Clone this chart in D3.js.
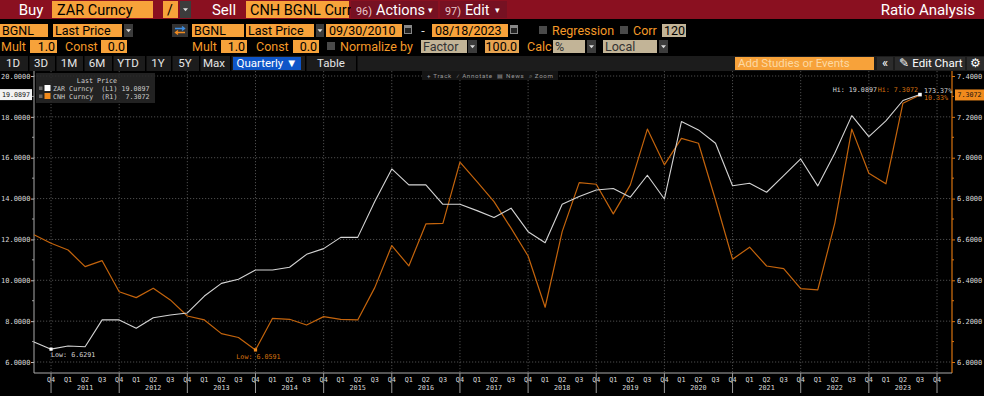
<!DOCTYPE html>
<html>
<head>
<meta charset="utf-8">
<script src="https://cdn.jsdelivr.net/npm/d3@7"></script>
<style>
  html, body { margin: 0; padding: 0; background: #000; overflow: hidden; }
  svg { display: block; }
  text { white-space: pre; }
</style>
</head>
<body>
<svg id="chart"></svg>
<script>
// quarterly closes, 2010 Q3 (09/30/2010) .. 2023 Q3 (08/18/2023)
const firstQuarter = { year: 2010, q: 3 };
const zarCurncy = [6.983, 6.6291, 6.78, 6.75, 8.06, 8.06, 7.65, 8.17, 8.30, 8.40, 9.23, 9.85, 10.05, 10.5,
  10.5, 10.64, 11.27, 11.55, 12.10, 12.10, 13.86, 15.45, 14.67, 14.67, 13.72, 13.72, 13.41, 13.07, 13.53,
  12.38, 11.84, 13.72, 14.10, 14.42, 14.49, 14.07, 15.14, 13.98, 17.77, 17.36, 16.71, 14.63, 14.75, 14.31,
  15.12, 15.94, 14.62, 16.22, 18.06, 17.03, 17.80, 18.80, 19.0897];
const cnhCurncy = [6.623, 6.581, 6.548, 6.467, 6.496, 6.344, 6.315, 6.361, 6.304, 6.225, 6.206, 6.139, 6.12,
  6.0591, 6.214, 6.209, 6.181, 6.222, 6.209, 6.206, 6.364, 6.57, 6.47, 6.676, 6.679, 6.978, 6.883, 6.785,
  6.655, 6.519, 6.268, 6.638, 6.878, 6.87, 6.725, 6.867, 7.14, 6.965, 7.095, 7.071, 6.793, 6.503, 6.562,
  6.47, 6.457, 6.359, 6.353, 6.679, 7.14, 6.924, 6.872, 7.267, 7.3072];
const leftTicks = [6, 8, 10, 12, 14, 16, 18, 20];
const rightTicks = [6.0, 6.2, 6.4, 6.6, 6.8, 7.0, 7.2, 7.4];
const axisYears = [2011, 2012, 2013, 2014, 2015, 2016, 2017, 2018, 2019, 2020, 2021, 2022, 2023];
const quarterNames = ['Q1', 'Q2', 'Q3', 'Q4'];

const W = 984, H = 396;
const SANS = 'Roboto, "Liberation Sans", sans-serif';
const MONO = '"DejaVu Sans Mono", "Liberation Mono", monospace';
const RED = '#8a1020', ORANGE = '#f7a23a', ORANGE_TXT = '#f59a28', TAN = '#c2b497', DROP = '#3c3c3c';
const ZAR_COLOR = '#d4d4d4', CNH_COLOR = '#c4640c', AXIS_ORANGE = '#d9730f';

const svg = d3.select('#chart').attr('width', W).attr('height', H).attr('viewBox', [0, 0, W, H]);
svg.append('rect').attr('width', W).attr('height', H).attr('fill', '#000');

function box(x, y, w, h, fill) {
  return svg.append('rect').attr('x', x).attr('y', y).attr('width', w).attr('height', h).attr('fill', fill);
}
function label(x, y, str, fill, size, anchor, family) {
  return svg.append('text').attr('x', x).attr('y', y).attr('fill', fill)
    .attr('font-size', size).attr('font-family', family || SANS)
    .attr('text-anchor', anchor || 'start').text(str);
}
function dropdown(x, y, w, h) {
  box(x, y, w, h, DROP);
  const cx = x + w / 2, cy = y + h / 2;
  svg.append('path').attr('d', `M${cx - 2.5},${cy - 1.2}L${cx + 2.5},${cy - 1.2}L${cx},${cy + 1.8}Z`).attr('fill', '#ddd');
}
function checkbox(x, y) {
  box(x, y, 8, 8, '#4a4a4a');
}
function calendar(x, y) {
  box(x, y + 1, 8, 9, '#888');
  box(x + 1, y + 4, 6, 5, '#222');
}

/**
 * top red bar
 */
box(0, 0, W, 19, RED);
label(31, 15, 'Buy', '#fff', 15, 'middle');
box(52, 1, 101, 17, ORANGE);
label(57, 15, 'ZAR Curncy', '#000', 14.5);
box(163, 1, 15, 17, ORANGE);
label(170, 15, '/', '#000', 14, 'middle');
dropdown(180, 1, 11, 17);
label(224, 15, 'Sell', '#fff', 15, 'middle');
box(246, 1, 103, 17, ORANGE);
label(250, 15, 'CNH BGNL Curr', '#000', 14.5);
box(351, 1, 87, 17, '#761122');
label(356, 14.5, '96)', '#e9c9cc', 11).attr('textLength', 16).attr('lengthAdjust', 'spacingAndGlyphs');
label(376, 15, 'Actions', '#fff', 14.5);
label(430, 13, '▾', '#fff', 9, 'middle');
box(440, 1, 67, 17, '#761122');
label(445, 14.5, '97)', '#e9c9cc', 11).attr('textLength', 16).attr('lengthAdjust', 'spacingAndGlyphs');
label(465, 15, 'Edit', '#fff', 14.5);
label(497, 13, '▾', '#fff', 9, 'middle');
label(975, 15, 'Ratio Analysis', '#fff', 15, 'end');

/**
 * second row: series selection and date range
 */
const r2 = 24, r2h = 13, r2t = r2 + 11;
box(0, r2, 48, r2h, ORANGE);
label(2, r2t, 'BGNL', '#000', 12.5);
box(53, r2, 69, r2h, ORANGE);
label(55, r2t, 'Last Price', '#000', 12.5);
dropdown(124, r2, 9, r2h);
box(172, r2, 16, r2h, '#333');
svg.append('path').attr('d', `M175,${r2 + 4.5}H184M182,${r2 + 2.5}L184.5,${r2 + 4.5}L182,${r2 + 6.5}`)
  .attr('stroke', '#3d8de0').attr('stroke-width', 1.4).attr('fill', 'none');
svg.append('path').attr('d', `M185,${r2 + 8.5}H176M178,${r2 + 6.5}L175.5,${r2 + 8.5}L178,${r2 + 10.5}`)
  .attr('stroke', '#f08a20').attr('stroke-width', 1.4).attr('fill', 'none');
box(192, r2, 52, r2h, ORANGE);
label(194, r2t, 'BGNL', '#000', 12.5);
box(246, r2, 68, r2h, ORANGE);
label(248, r2t, 'Last Price', '#000', 12.5);
dropdown(316, r2, 8, r2h);
box(326, r2, 76, r2h, ORANGE);
label(329, r2t, '09/30/2010', '#000', 12.5);
calendar(404, r2);
label(423, r2t, '-', '#ddd', 12.5, 'middle');
box(432, r2, 76, r2h, ORANGE);
label(435, r2t, '08/18/2023', '#000', 12.5);
calendar(510, r2);
checkbox(539, r2 + 2);
label(552, r2t, 'Regression', ORANGE_TXT, 12.5);
checkbox(620, r2 + 2);
label(633, r2t, 'Corr', ORANGE_TXT, 12.5);
box(662, r2, 24, r2h, TAN);
label(664, r2t, '120', '#000', 12.5);

/**
 * third row: multipliers and normalisation
 */
const r3 = 40, r3h = 13, r3t = r3 + 11;
label(1, r3t, 'Mult', ORANGE_TXT, 12.5);
box(30, r3, 27, r3h, ORANGE);
label(55, r3t, '1.0', '#000', 12.5, 'end');
label(65, r3t, 'Const', ORANGE_TXT, 12.5);
box(101, r3, 26, r3h, ORANGE);
label(125, r3t, '0.0', '#000', 12.5, 'end');
label(192, r3t, 'Mult', ORANGE_TXT, 12.5);
box(221, r3, 26, r3h, ORANGE);
label(245, r3t, '1.0', '#000', 12.5, 'end');
label(256, r3t, 'Const', ORANGE_TXT, 12.5);
box(293, r3, 26, r3h, ORANGE);
label(317, r3t, '0.0', '#000', 12.5, 'end');
checkbox(327, r3 + 2);
label(340, r3t, 'Normalize by', ORANGE_TXT, 12.5);
box(421, r3, 46, r3h, TAN);
label(423, r3t, 'Factor', '#333', 12.5);
dropdown(468, r3, 9, r3h);
box(485, r3, 34, r3h, '#e6a350');
label(517, r3t, '100.0', '#000', 12.5, 'end');
label(527, r3t, 'Calc', ORANGE_TXT, 12.5);
box(553, r3, 32, r3h, TAN);
label(555, r3t, '%', '#333', 12.5);
dropdown(587, r3, 9, r3h);
box(603, r3, 54, r3h, TAN);
label(605, r3t, 'Local', '#333', 12.5);
dropdown(659, r3, 9, r3h);

/**
 * fourth row: period buttons
 */
const r4 = 56, r4h = 15, r4t = r4 + 11;
box(0, r4, W, r4h, '#1c1c1c');
[28, 55, 83, 112, 145, 171, 199, 230, 305, 356].forEach((x) => box(x, r4, 1.5, r4h, '#000'));
[['1D', 13], ['3D', 41], ['1M', 69], ['6M', 97], ['YTD', 128], ['1Y', 158], ['5Y', 185], ['Max', 214], ['Table', 331]]
  .forEach(([t, x]) => label(x, r4t, t, '#e6e6e6', 11.5, 'middle'));
box(233, r4 + 1, 68, r4h - 2, '#0e55c8');
label(267, r4t, 'Quarterly ▼', '#fff', 11.5, 'middle');
box(735, r4 + 1, 139, r4h - 2, ORANGE);
label(738, r4t, 'Add Studies or Events', '#fcd9a4', 11.5);
box(877, r4 + 1, 16, r4h - 2, '#2c2c2c');
label(885, r4t, '«', '#fff', 13, 'middle');
box(895, r4 + 1, 70, r4h - 2, '#2c2c2c');
label(931, r4t, '✎ Edit Chart', '#fff', 11.5, 'middle');
box(967, r4 + 1, 17, r4h - 2, '#2c2c2c');
label(975.5, r4t, '⚙', '#fff', 11.5, 'middle');

/**
 * chart area
 */
const plotLeft = 34, plotRight = 952, plotTop = 71, plotBottom = 373;
const nQuarters = zarCurncy.length;
const x_scale = d3.scaleLinear([0, 53.88], [plotLeft, plotRight]);
const yL = d3.scaleLinear([6, 20], [362, 76]);
const yR = d3.scaleLinear([6.0, 7.4], [362, 76]);

// quarter labels along the axis, index 0 = first data quarter
const quarterTicks = d3.range(1, 54).map((i) => {
  const q = (firstQuarter.q - 1 + i) % 4;
  return { i, name: quarterNames[q] };
});
const yearSeparators = quarterTicks.filter((d) => d.name === 'Q4').map((d) => d.i);

// grid
const grid = svg.append('g').attr('stroke', '#606060').attr('stroke-width', 0.8).attr('stroke-dasharray', '1.2 1.8');
grid.selectAll('.hgrid').data(leftTicks).join('line').attr('class', 'hgrid')
  .attr('x1', plotLeft).attr('x2', plotRight).attr('y1', (d) => yL(d)).attr('y2', (d) => yL(d));
grid.selectAll('.vgrid').data(yearSeparators).join('line').attr('class', 'vgrid')
  .attr('x1', (d) => x_scale(d)).attr('x2', (d) => x_scale(d)).attr('y1', plotTop).attr('y2', plotBottom);

// small chart tool strip
box(422, 71, 136, 9, '#151515');
label(427, 78, '+ Track  ⁄ Annotate  ▤ News  ⌕ Zoom', '#9a9a9a', 6.2)
  .attr('textLength', 126).attr('lengthAdjust', 'spacing');

// left axis
const leftAxis = svg.append('g').attr('transform', `translate(${plotLeft},0)`)
  .call(d3.axisLeft(yL).tickValues(leftTicks).tickSize(3).tickFormat(d3.format('.4f')))
  .call((g) => g.select('.domain').remove())
  .call((g) => g.selectAll('.tick line').attr('stroke', '#bbb'))
  .call((g) => g.selectAll('.tick text').attr('fill', '#d8d8d8').attr('font-family', MONO).attr('font-size', 7).attr('x', -3.5));
leftAxis.selectAll('.minor').data(d3.range(7, 20, 2)).join('line').attr('class', 'minor')
  .attr('x1', -2).attr('x2', 0).attr('y1', (d) => yL(d)).attr('y2', (d) => yL(d)).attr('stroke', '#999');
svg.append('line').attr('x1', plotLeft).attr('x2', plotLeft).attr('y1', plotTop).attr('y2', plotBottom).attr('stroke', '#aaa');

// right axis
const rightAxis = svg.append('g').attr('transform', `translate(${plotRight},0)`)
  .call(d3.axisRight(yR).tickValues(rightTicks).tickSize(3).tickFormat(d3.format('.4f')))
  .call((g) => g.select('.domain').remove())
  .call((g) => g.selectAll('.tick line').attr('stroke', AXIS_ORANGE))
  .call((g) => g.selectAll('.tick text').attr('fill', '#d8d8d8').attr('font-family', MONO).attr('font-size', 7).attr('x', 5));
rightAxis.selectAll('.minor').data(d3.range(6.1, 7.4, 0.2)).join('line').attr('class', 'minor')
  .attr('x1', 0).attr('x2', 2).attr('y1', (d) => yR(d)).attr('y2', (d) => yR(d)).attr('stroke', AXIS_ORANGE);
svg.append('line').attr('x1', plotRight).attr('x2', plotRight).attr('y1', plotTop).attr('y2', plotBottom)
  .attr('stroke', AXIS_ORANGE).attr('stroke-width', 1.2);

// bottom axis
svg.append('line').attr('x1', plotLeft).attr('x2', plotRight).attr('y1', plotBottom).attr('y2', plotBottom).attr('stroke', '#aaa');
const xAxis = svg.append('g');
xAxis.selectAll('.qlabel').data(quarterTicks).join('text').attr('class', 'qlabel')
  .attr('x', (d) => x_scale(d.i)).attr('y', 382).attr('text-anchor', 'middle')
  .attr('fill', '#d8d8d8').attr('font-family', MONO).attr('font-size', 6.8).text((d) => d.name);
xAxis.selectAll('.sep').data(yearSeparators).join('line').attr('class', 'sep')
  .attr('x1', (d) => x_scale(d)).attr('x2', (d) => x_scale(d)).attr('y1', plotBottom).attr('y2', 393)
  .attr('stroke', '#999').attr('stroke-width', 1);
xAxis.selectAll('.ylabel').data(axisYears).join('text').attr('class', 'ylabel')
  .attr('x', (d, k) => x_scale((yearSeparators[k] + yearSeparators[k + 1]) / 2))
  .attr('y', 390).attr('text-anchor', 'middle')
  .attr('fill', '#d8d8d8').attr('font-family', MONO).attr('font-size', 6.8).text((d) => d);

// lines
const lineL = d3.line().x((d, i) => x_scale(i)).y((d) => yL(d));
const lineR = d3.line().x((d, i) => x_scale(i)).y((d) => yR(d));
svg.append('path').attr('d', lineR(cnhCurncy)).attr('fill', 'none').attr('stroke', CNH_COLOR)
  .attr('stroke-width', 1.2).attr('stroke-linejoin', 'round');
svg.append('path').attr('d', lineL(zarCurncy)).attr('fill', 'none').attr('stroke', ZAR_COLOR)
  .attr('stroke-width', 1.1).attr('stroke-linejoin', 'round');

// low / high annotations
const fmt4 = d3.format('.4f');
const zarLowI = d3.minIndex(zarCurncy), cnhLowI = d3.minIndex(cnhCurncy);
const last = nQuarters - 1;
svg.append('rect').attr('x', x_scale(zarLowI) - 1.6).attr('y', yL(zarCurncy[zarLowI]) - 1.6).attr('width', 3.2).attr('height', 3.2).attr('fill', '#fff');
label(x_scale(zarLowI), yL(zarCurncy[zarLowI]) + 8, 'Low: ' + fmt4(zarCurncy[zarLowI]), '#d8d8d8', 6.7, 'start', MONO);
svg.append('rect').attr('x', x_scale(cnhLowI) - 1.6).attr('y', yR(cnhCurncy[cnhLowI]) - 1.6).attr('width', 3.2).attr('height', 3.2).attr('fill', '#f08a1c');
label(x_scale(cnhLowI) + 3, yR(cnhCurncy[cnhLowI]) + 9, 'Low: ' + fmt4(cnhCurncy[cnhLowI]), '#d9730f', 6.7, 'middle', MONO);

const hiY = yL(zarCurncy[last]);
svg.append('rect').attr('x', x_scale(last) - 1.8).attr('y', hiY - 1.8).attr('width', 3.6).attr('height', 3.6).attr('fill', '#fff');
label(x_scale(last) - 2, hiY - 3, 'Hi: ' + fmt4(cnhCurncy[last]), '#d9730f', 6.7, 'end', MONO);
label(x_scale(last) - 43, hiY - 3, 'Hi: ' + fmt4(zarCurncy[last]), '#d8d8d8', 6.7, 'end', MONO);
const pct = (arr) => d3.format('.2f')((arr[last] / arr[0] - 1) * 100) + '%';
label(x_scale(last) + 4, hiY - 2, pct(zarCurncy), '#d8d8d8', 6.7, 'start', MONO);
label(x_scale(last) + 4, hiY + 5.5, pct(cnhCurncy), '#d9730f', 6.7, 'start', MONO);

// current value tags
box(0, yL(zarCurncy[last]) - 5.5, 32, 11, '#f2f2f2');
label(16, yL(zarCurncy[last]) + 2.5, fmt4(zarCurncy[last]), '#111', 6.7, 'middle', MONO);
box(955, yR(cnhCurncy[last]) - 5.5, 29, 11, '#f08a1c');
label(969.5, yR(cnhCurncy[last]) + 2.5, fmt4(cnhCurncy[last]), '#111', 6.7, 'middle', MONO);

// legend
box(36, 73, 119, 30, 'rgba(40,40,40,0.85)');
label(97, 83, 'Last Price', '#d0d0d0', 6.7, 'middle', MONO);
const legendRows = [
  { name: 'ZAR Curncy', side: '(L1)', value: fmt4(zarCurncy[last]), color: '#fff' },
  { name: 'CNH Curncy', side: '(R1)', value: fmt4(cnhCurncy[last]), color: '#f08a1c' },
];
legendRows.forEach((r, k) => {
  const y = 91 + k * 8;
  box(39, y - 4.5, 3.5, 3.5, '#666');
  box(44.5, y - 6, 6, 6, r.color);
  label(53, y, `${r.name}  ${r.side} ${r.value.padStart(7, ' ')}`, '#d0d0d0', 6.7, 'start', MONO);
});
</script>
</body>
</html>
